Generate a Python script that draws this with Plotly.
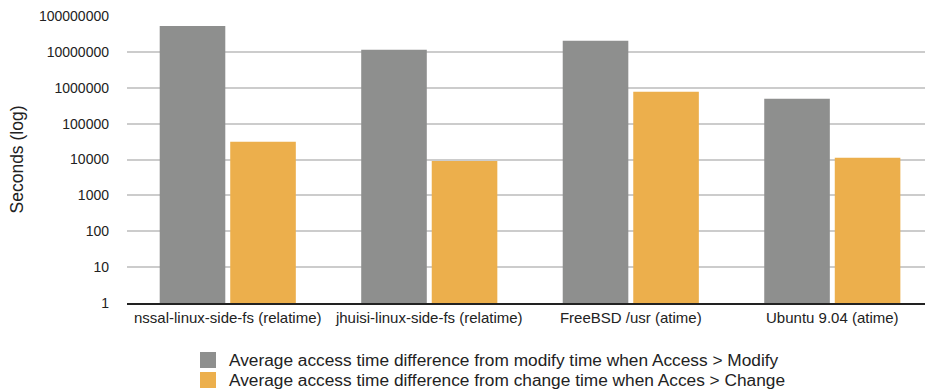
import plotly.graph_objects as go

categories = [
    "nssal-linux-side-fs (relatime)",
    "jhuisi-linux-side-fs (relatime)",
    "FreeBSD /usr (atime)",
    "Ubuntu 9.04 (atime)",
]
modify_diff = [53000000, 11400000, 20400000, 490000]
change_diff = [31000, 9100, 770000, 11100]
series_names = [
    "Average access time difference from modify time when Access > Modify",
    "Average access time difference from change time when Acces > Change",
]
series_colors = ["#8e8f8e", "#ecaf4c"]
tick_values = [1, 10, 100, 1000, 10000, 100000, 1000000, 10000000, 100000000]
tick_labels = [str(v) for v in tick_values]

font_family = "Liberation Sans, Arial, sans-serif"
W, H = 926, 392
M = dict(l=127, r=1, t=16, b=89)
plot_w = W - M["l"] - M["r"]
plot_h = H - M["t"] - M["b"]


def px_to_paper(px, py):
    return (px - M["l"]) / plot_w, (H - M["b"] - py) / plot_h


fig = go.Figure()
for name, values, color in zip(series_names, [modify_diff, change_diff], series_colors):
    fig.add_trace(go.Bar(x=categories, y=values, name=name, showlegend=False,
                         marker=dict(color=color, line=dict(width=0))))

# legend below the plot: square key plus label per series
shapes, annotations = [], []
for i, (name, color) in enumerate(zip(series_names, series_colors)):
    cy = 360 + 20 * i
    x0, y0 = px_to_paper(200, cy + 8)
    x1, y1 = px_to_paper(216, cy - 8)
    shapes.append(dict(type="rect", xref="paper", yref="paper", x0=x0, x1=x1,
                       y0=y0, y1=y1, fillcolor=color, line=dict(width=0)))
    tx, ty = px_to_paper(227, cy)
    annotations.append(dict(xref="paper", yref="paper", x=tx, y=ty, text=name,
                            showarrow=False, xanchor="left", yanchor="middle",
                            font=dict(size=17.3, color="#222222")))

fig.update_layout(
    width=W, height=H,
    margin=dict(**M, autoexpand=False),
    paper_bgcolor="white", plot_bgcolor="white",
    barmode="group", bargap=0.30, bargroupgap=0.07,
    font=dict(family=font_family, size=14, color="#222222"),
    showlegend=False,
    shapes=shapes, annotations=annotations,
    xaxis=dict(range=[-0.5, 3.46], showgrid=False, showline=True,
               linecolor="#222222", linewidth=1.5, ticks="",
               tickfont=dict(size=15), zeroline=False, ticklabelstandoff=0),
    yaxis=dict(type="log", range=[0, 8], tickvals=tick_values, ticktext=tick_labels,
               showgrid=True, gridcolor="#cccccc", gridwidth=1.5,
               showline=False, zeroline=False, ticks="", ticklabelstandoff=17,
               title=dict(text="Seconds (log)", font=dict(size=17.5), standoff=10),
               tickfont=dict(size=14)),
)

fig.write_html("out.html")
